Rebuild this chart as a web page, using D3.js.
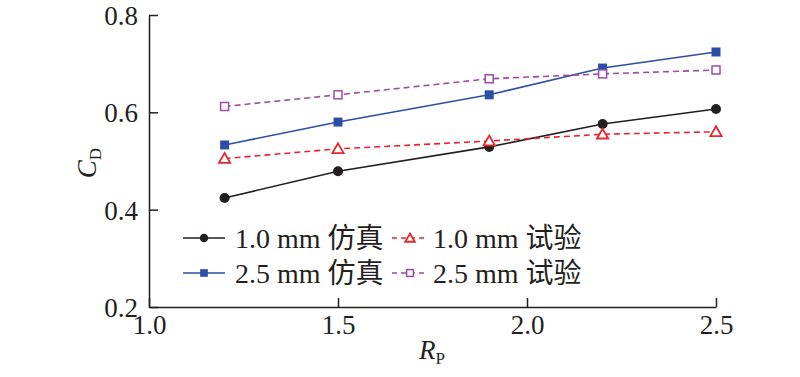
<!DOCTYPE html>
<html>
<head>
<meta charset="utf-8">
<script src="https://cdn.jsdelivr.net/npm/d3@7"></script>
<style>
  body { margin: 0; background: #fff; }
  svg text { font-family: "Liberation Serif", "Noto Sans CJK SC", serif; fill: #231f20; }
</style>
</head>
<body>
<div class="chart"></div>
<script>
const rp = [1.2, 1.5, 1.9, 2.2, 2.5];
const sim10 = [0.424, 0.479, 0.529, 0.576, 0.607];
const exp10 = [0.505, 0.525, 0.541, 0.555, 0.560];
const sim25 = [0.533, 0.580, 0.636, 0.691, 0.724];
const exp25 = [0.612, 0.636, 0.669, 0.679, 0.687];
const xTicks = [1.0, 1.5, 2.0, 2.5];
const yTicks = [0.2, 0.4, 0.6, 0.8];

const series = [
  { name: "1.0 mm 仿真", values: sim10, color: "#231f20", dash: null, marker: "circle" },
  { name: "1.0 mm 试验", values: exp10, color: "#e8262d", dash: "6,4", marker: "triangle" },
  { name: "2.5 mm 仿真", values: sim25, color: "#2c4ea5", dash: null, marker: "square" },
  { name: "2.5 mm 试验", values: exp25, color: "#9e4aa8", dash: "6,4", marker: "osquare" },
];

const width = 800, height = 377;
const margin = { top: 15, right: 84, bottom: 70, left: 149 };

const svg = d3.select(".chart").append("svg")
  .attr("width", width).attr("height", height);

const x = d3.scaleLinear().domain([1.0, 2.5]).range([margin.left, width - margin.right]);
const y = d3.scaleLinear().domain([0.2, 0.8]).range([height - margin.bottom, margin.top]);

// axes, ticks pointing inward
const xAxis = svg.append("g")
  .attr("transform", `translate(0,${height - margin.bottom})`)
  .call(d3.axisBottom(x).tickValues(xTicks).tickFormat(d3.format(".1f")).tickSizeInner(-9).tickSizeOuter(0).tickPadding(8));
const yAxis = svg.append("g")
  .attr("transform", `translate(${margin.left},0)`)
  .call(d3.axisLeft(y).tickValues(yTicks).tickFormat(d3.format(".1f")).tickSizeInner(-9).tickSizeOuter(0).tickPadding(11));

[xAxis, yAxis].forEach(a => {
  a.select(".domain").attr("stroke", "#231f20").attr("stroke-width", 1.5);
  a.selectAll(".tick line").attr("stroke", "#231f20").attr("stroke-width", 1.5);
  a.selectAll(".tick text").style("font-size", "27px").attr("fill", "#231f20");
});
xAxis.selectAll(".tick text").attr("y", 8).attr("dy", "0.71em");
yAxis.selectAll(".tick text").attr("dy", "0.35em");

// axis titles
const xt = svg.append("text").attr("x", 432).attr("y", 359)
  .attr("text-anchor", "middle").style("font-size", "27px");
xt.append("tspan").style("font-style", "italic").text("R");
xt.append("tspan").attr("dy", 5).style("font-size", "17px").text("P");

const yt = svg.append("text")
  .attr("transform", "translate(96,163) rotate(-90)")
  .attr("text-anchor", "middle").style("font-size", "27px");
yt.append("tspan").style("font-style", "italic").text("C");
yt.append("tspan").attr("dy", 5).style("font-size", "17px").text("D");

function drawMarker(g, type, color, cx, cy, scale = 1) {
  if (type === "circle") {
    g.append("circle").attr("cx", cx).attr("cy", cy).attr("r", 5 * scale).attr("fill", color);
  } else if (type === "square") {
    const s = 9 * scale;
    g.append("rect").attr("x", cx - s / 2).attr("y", cy - s / 2).attr("width", s).attr("height", s).attr("fill", color);
  } else if (type === "osquare") {
    const s = 8 * scale;
    g.append("rect").attr("x", cx - s / 2).attr("y", cy - s / 2).attr("width", s).attr("height", s)
      .attr("fill", "#fff").attr("stroke", color).attr("stroke-width", 1.5);
  } else if (type === "triangle") {
    g.append("path")
      .attr("d", d3.symbol().type(d3.symbolTriangle).size(55 * scale * scale)())
      .attr("transform", `translate(${cx},${cy + 1})`)
      .attr("fill", "#fff").attr("stroke", color).attr("stroke-width", 1.8);
  }
}

const line = d3.line().x((d, i) => x(rp[i])).y(d => y(d));

series.forEach(s => {
  const g = svg.append("g");
  g.append("path").datum(s.values)
    .attr("d", line).attr("fill", "none")
    .attr("stroke", s.color).attr("stroke-width", 1.6)
    .attr("stroke-dasharray", s.dash);
  s.values.forEach((v, i) => drawMarker(g, s.marker, s.color, x(rp[i]), y(v)));
});

// legend
const legendPos = [
  { s: series[0], lx: 183, ly: 238, len: 42 },
  { s: series[1], lx: 392, ly: 238, len: 36 },
  { s: series[2], lx: 183, ly: 273, len: 42 },
  { s: series[3], lx: 392, ly: 273, len: 36 },
];
legendPos.forEach(p => {
  const g = svg.append("g");
  g.append("line").attr("x1", p.lx).attr("x2", p.lx + p.len).attr("y1", p.ly).attr("y2", p.ly)
    .attr("stroke", p.s.color).attr("stroke-width", 1.6).attr("stroke-dasharray", p.s.dash ? "5,4" : null);
  drawMarker(g, p.s.marker, p.s.color, p.lx + p.len / 2, p.ly, 0.85);
  g.append("text").attr("x", p.lx + (p.len === 42 ? 52 : 41)).attr("y", p.ly).attr("dy", "0.35em")
    .style("font-size", "28px").text(p.s.name);
});
</script>
</body>
</html>
